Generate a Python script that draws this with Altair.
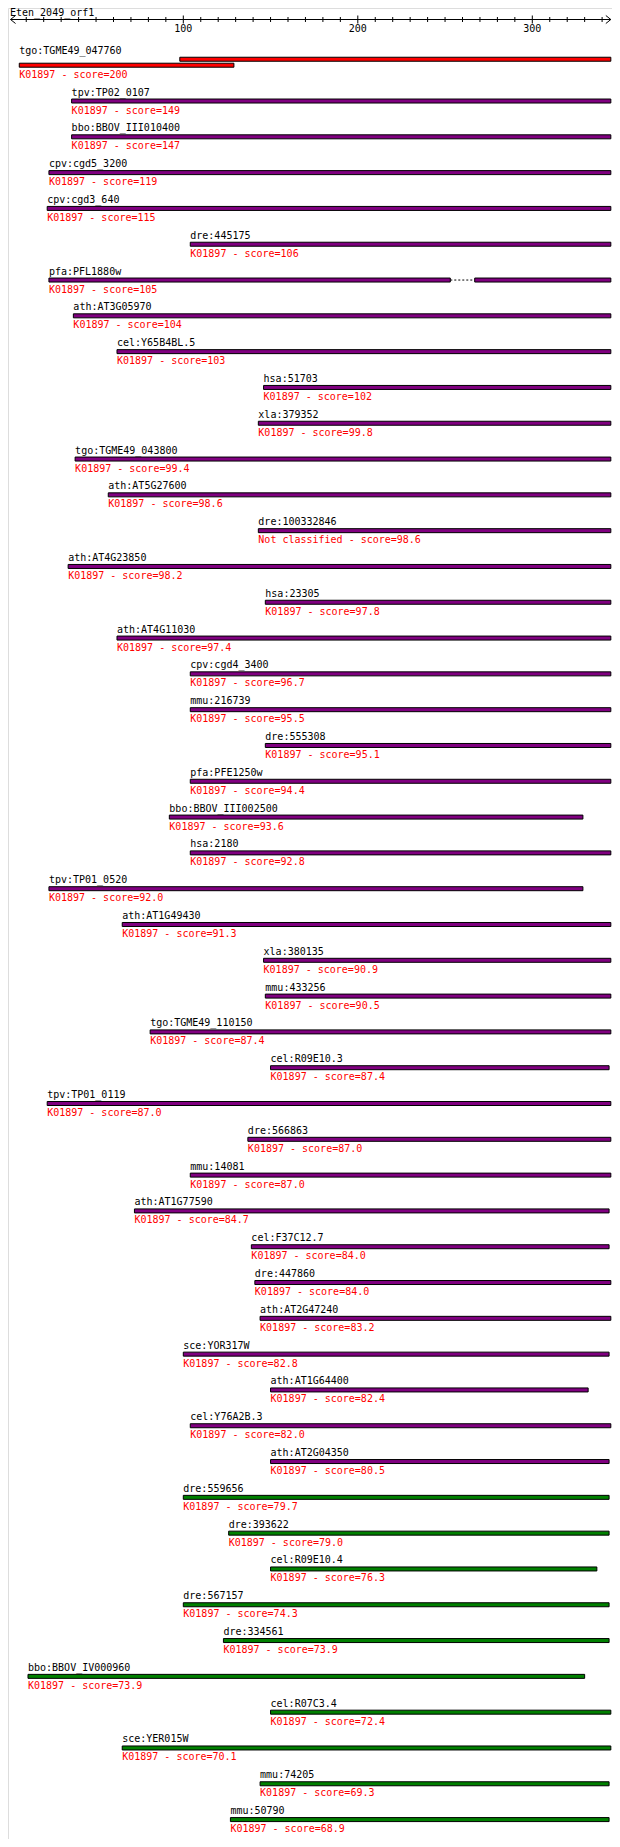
import altair as alt
import pandas as pd

# ---------------- data ----------------
query_name = "Eten_2049_orf1"
query_len = 345

names = [
    "tgo:TGME49_047760", "tpv:TP02_0107", "bbo:BBOV_III010400", "cpv:cgd5_3200",
    "cpv:cgd3_640", "dre:445175", "pfa:PFL1880w", "ath:AT3G05970", "cel:Y65B4BL.5",
    "hsa:51703", "xla:379352", "tgo:TGME49_043800", "ath:AT5G27600", "dre:100332846",
    "ath:AT4G23850", "hsa:23305", "ath:AT4G11030", "cpv:cgd4_3400", "mmu:216739",
    "dre:555308", "pfa:PFE1250w", "bbo:BBOV_III002500", "hsa:2180", "tpv:TP01_0520",
    "ath:AT1G49430", "xla:380135", "mmu:433256", "tgo:TGME49_110150", "cel:R09E10.3",
    "tpv:TP01_0119", "dre:566863", "mmu:14081", "ath:AT1G77590", "cel:F37C12.7",
    "dre:447860", "ath:AT2G47240", "sce:YOR317W", "ath:AT1G64400", "cel:Y76A2B.3",
    "ath:AT2G04350", "dre:559656", "dre:393622", "cel:R09E10.4", "dre:567157",
    "dre:334561", "bbo:BBOV_IV000960", "cel:R07C3.4", "sce:YER015W", "mmu:74205",
    "mmu:50790",
]
scores = [
    200, 149, 147, 119, 115, 106, 105, 104, 103, 102,
    99.8, 99.4, 98.6, 98.6, 98.2, 97.8, 97.4, 96.7, 95.5, 95.1,
    94.4, 93.6, 92.8, 92.0, 91.3, 90.9, 90.5, 87.4, 87.4, 87.0,
    87.0, 87.0, 84.7, 84.0, 84.0, 83.2, 82.8, 82.4, 82.0, 80.5,
    79.7, 79.0, 76.3, 74.3, 73.9, 73.9, 72.4, 70.1, 69.3, 68.9,
]
ko = ["K01897"] * 13 + ["Not classified"] + ["K01897"] * 36

# aligned segments: row index, start, end, lane (1 = upper lane)
seg_row = [0, 0, 1, 2, 3, 4, 5, 6, 6, 7, 8, 9, 10, 11, 12, 13, 14, 15, 16, 17,
           18, 19, 20, 21, 22, 23, 24, 25, 26, 27, 28, 29, 30, 31, 32, 33, 34,
           35, 36, 37, 38, 39, 40, 41, 42, 43, 44, 45, 46, 47, 48, 49]
seg_start = [98, 6, 36, 36, 23, 22, 104, 23, 267, 37, 62, 146, 143, 38, 57, 143,
             34, 147, 62, 104, 104, 147, 104, 92, 104, 23, 65, 146, 147, 81, 150,
             22, 137, 104, 72, 139, 141, 144, 100, 150, 104, 150, 100, 126, 150,
             100, 123, 11, 150, 65, 144, 127]
seg_end = [345, 129, 345, 345, 345, 345, 345, 253, 345, 345, 345, 345, 345, 345,
           345, 345, 345, 345, 345, 345, 345, 345, 345, 329, 345, 329, 345, 345,
           345, 345, 344, 345, 345, 345, 344, 344, 345, 345, 344, 332, 345, 344,
           344, 344, 337, 344, 344, 330, 345, 345, 344, 344]
seg_lane = [1] + [0] * 51

# gaps between segments (dotted)
gap_row = [6]
gap_start = [253]
gap_end = [267]

# axis ticks
minor_ticks = [10, 20, 30, 40, 50, 60, 70, 80, 90, 110, 120, 130, 140, 150, 160,
               170, 180, 190, 210, 220, 230, 240, 250, 260, 270, 280, 290, 310,
               320, 330, 340]
major_ticks = [100, 200, 300]
major_labels = ["100", "200", "300"]

# ---------------- tables ----------------
LANE = 6 / 36.0

seg = pd.DataFrame({"row": seg_row, "start": seg_start, "end": seg_end, "lane": seg_lane})
seg["yr"] = seg["row"] - seg["lane"] * LANE
cls_of = []
for s in scores:
    cls_of.append("red" if s >= 200 else ("purple" if s >= 80 else "green"))
seg["cls"] = [cls_of[r] for r in seg["row"]]

rows = pd.DataFrame({"row": list(range(len(names))), "name": names, "score": scores, "ko": ko})
rows["x0"] = [min(s for r2, s in zip(seg_row, seg_start) if r2 == r) for r in rows["row"]]
rows["toplane"] = [max(l for r2, l in zip(seg_row, seg_lane) if r2 == r) for r in rows["row"]]
rows["ylab"] = rows["row"] - rows["toplane"] * LANE
rows["yr"] = rows["row"].astype(float)
rows["stxt"] = [
    f"{k} - score={int(s) if s >= 100 else format(s, '.1f')}" for k, s in zip(ko, scores)
]

gaps = pd.DataFrame({"row": gap_row, "start": gap_start, "end": gap_end})
gaps["yr"] = gaps["row"].astype(float)

minor = pd.DataFrame({"u": minor_ticks})
major = pd.DataFrame({"u": major_ticks, "lab": major_labels})
ends = pd.DataFrame({"u": [1], "u2": [query_len]})
larrow = pd.DataFrame({"u": [1]})
rarrow = pd.DataFrame({"u": [query_len]})
title_df = pd.DataFrame({"t": [query_name]})

# ---------------- scales ----------------
W, H = 604, 1831
xs = alt.Scale(domain=[-0.458, 345.67], nice=False, zero=False)
ys = alt.Scale(domain=[-52.5 / 36, -52.5 / 36 + H / 36], nice=False, zero=False, reverse=True)
FONT = "DejaVu Sans Mono"
FS = 10
AXY = 11.5

bars = alt.Chart(seg).mark_bar(orient="horizontal", height=4, stroke="black", strokeWidth=1).encode(
    x=alt.X("start:Q", scale=xs, axis=None),
    x2="end:Q",
    y=alt.Y("yr:Q", scale=ys, axis=None),
    color=alt.Color("cls:N", scale=alt.Scale(domain=["red", "purple", "green"],
                                             range=["#ff0000", "#800080", "#008000"]), legend=None),
)

gap_lines = alt.Chart(gaps).mark_rule(color="black", strokeWidth=1, strokeDash=[2, 2]).encode(
    x=alt.X("start:Q", scale=xs, axis=None),
    x2="end:Q",
    y=alt.Y("yr:Q", scale=ys, axis=None),
)

labels = alt.Chart(rows).mark_text(align="left", baseline="middle", font=FONT, fontSize=FS,
                                   color="black", dy=-8.5).encode(
    x=alt.X("x0:Q", scale=xs, axis=None),
    y=alt.Y("ylab:Q", scale=ys, axis=None),
    text="name:N",
)

score_txt = alt.Chart(rows).mark_text(align="left", baseline="middle", font=FONT, fontSize=FS,
                                      color="#ff0000", dy=9.5).encode(
    x=alt.X("x0:Q", scale=xs, axis=None),
    y=alt.Y("yr:Q", scale=ys, axis=None),
    text="stxt:N",
)

axis_line = alt.Chart(ends).mark_rule(color="black", strokeWidth=1).encode(
    x=alt.X("u:Q", scale=xs, axis=None), x2="u2:Q", y=alt.value(AXY),
)
minor_rules = alt.Chart(minor).mark_rule(color="black", strokeWidth=1).encode(
    x=alt.X("u:Q", scale=xs, axis=None), y=alt.value(AXY - 2.5), y2=alt.value(AXY + 2.5),
)
major_rules = alt.Chart(major).mark_rule(color="black", strokeWidth=1).encode(
    x=alt.X("u:Q", scale=xs, axis=None), y=alt.value(AXY - 4), y2=alt.value(AXY + 4),
)
major_text = alt.Chart(major).mark_text(align="center", baseline="middle", font=FONT,
                                        fontSize=FS, color="black").encode(
    x=alt.X("u:Q", scale=xs, axis=None), y=alt.value(21.3), text="lab:N",
)
left_head = alt.Chart(larrow).mark_point(shape="M1.25,-1L0,0L1.25,1", size=64, filled=False,
                                         color="black", strokeWidth=1, opacity=1).encode(
    x=alt.X("u:Q", scale=xs, axis=None), y=alt.value(AXY),
)
right_head = alt.Chart(rarrow).mark_point(shape="M-1.25,-1L0,0L-1.25,1", size=64, filled=False,
                                          color="black", strokeWidth=1, opacity=1).encode(
    x=alt.X("u:Q", scale=xs, axis=None), y=alt.value(AXY),
)
title = alt.Chart(title_df).mark_text(align="left", baseline="alphabetic", font=FONT,
                                      fontSize=FS, color="black").encode(
    x=alt.value(2), y=alt.value(8.4), text="t:N",
)

chart = alt.layer(
    axis_line, minor_rules, major_rules, major_text, left_head, right_head, title,
    gap_lines, bars, labels, score_txt,
).properties(
    width=W, height=H, padding=0, autosize=alt.AutoSizeParams(type="none"),
).configure_view(stroke=None).configure(background="white")

chart.save("out.html", embed_options={"renderer": "svg", "actions": False})
